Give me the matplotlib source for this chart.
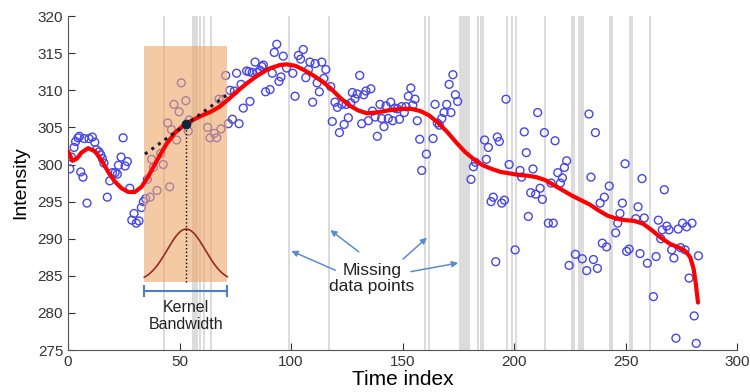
import numpy as np
import matplotlib.pyplot as plt
from matplotlib.patches import Rectangle

plt.rcParams['font.family'] = ['Liberation Sans', 'DejaVu Sans']

# observed samples (time index, intensity)
t_obs = [0.8, 1.5, 2.7, 3.4, 4.5, 5.1, 5.7, 6.7, 7.2, 8.5, 9.4, 10.9, 12.0, 12.7, 13.9,
         14.7, 15.4, 16.1, 17.6, 18.7, 19.9, 21.1, 22.1, 22.6, 23.8, 24.7, 25.6, 26.6,
         27.7, 28.6, 29.6, 30.6, 31.8, 32.9, 33.8, 34.8, 35.6, 36.8, 37.5, 38.3, 39.9,
         41.6, 42.7, 44.7, 45.6, 46.4, 47.5, 48.7, 49.8, 50.8, 52.8, 53.9, 54.3,
         62.6, 63.7, 65.6, 66.7, 67.7, 68.6, 69.6, 70.7, 71.9, 72.6, 73.7, 74.6, 75.6,
         76.7, 77.6, 78.6, 80.1, 81.2, 81.6, 82.6, 83.9, 84.9, 86.1, 86.9, 87.6, 88.6,
         90.6, 91.6, 92.5, 93.6, 94.6, 95.5, 96.5, 98.0,
         100.8, 101.8, 103.3, 104.3, 105.5, 106.6, 107.8, 108.5, 109.7, 110.8, 111.7,
         112.7, 113.8, 114.7, 115.6, 117.8, 118.5, 119.7, 120.8, 121.7, 122.7, 123.8,
         124.7, 125.7, 126.8, 127.5, 128.7, 129.7, 130.8, 131.7, 132.6, 133.6, 134.7,
         135.8, 136.5, 137.7, 138.7, 139.9, 140.6, 141.7, 142.6, 143.6, 144.7, 145.6,
         146.6, 147.7, 148.6, 149.6, 150.8, 151.6, 152.6, 153.7, 154.6, 155.6, 156.6,
         157.7, 158.6, 160.7, 163.7, 164.6, 165.6, 166.5, 167.6, 168.6, 169.8, 170.9,
         171.7, 172.6, 173.7, 174.7, 180.7, 181.8, 182.7, 186.8, 187.6, 188.5, 189.7,
         190.7, 191.8, 192.5, 193.4, 194.5, 195.7, 196.4, 197.8, 200.5, 202.7, 203.4,
         204.6, 205.5, 206.4, 207.5, 208.5, 209.7, 210.6, 211.7, 212.7, 213.6, 215.4,
         216.6, 217.6, 218.4, 219.6, 220.8, 221.7, 222.6, 223.6, 224.7, 227.5, 230.6,
         232.6, 233.6, 234.5, 235.6, 236.5, 237.4, 238.6, 239.6, 240.5, 241.5, 242.7,
         245.6, 246.5, 247.5, 248.6, 249.8, 250.5, 251.6, 254.6, 255.6, 256.5, 257.4,
         258.4, 259.8, 262.5, 263.7, 264.7, 265.8, 266.5, 267.4, 268.5, 269.5, 270.7,
         271.7, 272.6, 273.6, 274.7, 275.6, 276.7, 277.4, 278.5, 279.8, 280.8, 281.7,
         282.7]
y_obs = [299.4, 301.0, 302.3, 303.1, 303.6, 303.8, 299.0, 298.3, 303.5, 294.8, 303.5, 303.7,
         303.0, 302.0, 301.7, 301.3, 300.8, 300.2, 295.6, 297.8, 298.9, 298.9, 298.7,
         299.9, 301.0, 303.6, 299.8, 300.4, 296.8, 292.5, 293.4, 292.1, 292.4, 294.2,
         295.0, 295.4, 298.0, 295.6, 300.7, 299.6, 296.5, 301.5, 300.0, 305.6, 297.0,
         304.7, 308.1, 303.3, 307.1, 311.0, 308.6, 304.5, 306.0,
         305.0, 303.6, 304.2, 303.6, 308.8, 304.8, 308.8, 312.0, 305.5, 310.0, 306.1,
         309.9, 312.3, 305.5, 310.8, 307.6, 312.6, 312.5, 308.5, 312.4, 313.8, 312.4,
         312.7, 313.2, 313.4, 309.8, 310.1, 312.3, 315.1, 316.2, 311.2, 311.8, 314.6,
         313.0,
         312.3, 309.2, 314.7, 314.2, 315.5, 311.7, 312.8, 313.8, 308.4, 313.6, 311.0,
         309.8, 313.8, 311.6, 312.8, 310.5, 305.8, 308.4, 307.7, 304.3, 308.1, 305.4,
         308.1, 306.3, 308.3, 309.7, 308.9, 309.5, 312.0, 305.5, 309.4, 309.9, 305.9,
         310.2, 307.2, 306.4, 303.8, 308.1, 306.2, 305.1, 307.9, 306.2, 308.4, 305.9,
         307.6, 307.5, 306.1, 307.8, 307.0, 307.8, 309.2, 310.3, 308.0, 308.8, 305.9,
         303.4, 299.2, 301.4, 303.5, 308.1, 305.6, 305.3, 306.2, 307.0, 308.1, 310.8,
         307.0, 312.1, 309.4, 308.5, 298.0, 299.7, 300.3, 303.3, 300.7, 302.3, 295.0,
         295.6, 286.9, 303.7, 303.1, 294.8, 295.2, 308.8, 300.0, 288.5, 299.2, 298.3,
         304.4, 301.6, 293.0, 296.2, 299.4, 296.0, 307.0, 296.8, 295.3, 304.3, 292.1,
         297.5, 292.1, 303.2, 298.9, 297.5, 298.2, 299.6, 300.5, 286.4, 287.9, 287.3,
         285.7, 306.8, 298.3, 287.2, 304.3, 286.0, 294.8, 289.4, 295.6, 288.9, 297.1,
         290.8, 292.1, 293.4, 294.8, 300.1, 288.3, 288.6, 292.7, 294.3, 288.0, 298.1,
         292.8, 286.7, 282.2, 287.6, 292.5, 290.0, 291.2, 296.6, 291.7, 291.2, 288.5,
         287.4, 276.6, 291.3, 288.8, 292.1, 288.5, 291.6, 284.7, 292.1, 279.6, 275.9,
         287.7]

# smoothed estimate (red curve)
t_fit = [0, 2, 4, 6, 9, 12, 15, 18, 21, 24, 27, 30, 33, 36, 40, 44, 48, 52, 56, 60, 64,
         68, 72, 76, 80, 85, 90, 95, 98, 102, 106, 110, 114, 118, 122, 126, 130, 134,
         138, 142, 146, 150, 154, 158, 162, 166, 170, 174, 178, 182, 186, 190, 194, 198,
         202, 206, 210, 214, 218, 222, 226, 230, 234, 238, 242, 246, 250, 254, 258, 262,
         266, 270, 274, 277, 279, 280.5, 281.5, 282.5]
y_fit = [301.8, 300.5, 300.8, 301.6, 302.2, 301.8, 300.6, 299.0, 297.7, 296.8, 296.3,
         296.3, 297.0, 298.4, 300.6, 302.7, 304.3, 305.3, 306.0, 306.6, 307.1, 307.8,
         308.8, 309.9, 310.9, 312.0, 312.9, 313.4, 313.5, 313.3, 312.7, 312.0, 311.2,
         310.2, 309.0, 308.0, 307.3, 306.9, 307.0, 307.2, 307.4, 307.5, 307.5, 307.2,
         306.6, 305.6, 304.4, 303.0, 301.7, 300.7, 299.9, 299.4, 299.0, 298.8, 298.6,
         298.5, 298.3, 297.9, 297.2, 296.5, 295.8, 295.2, 294.6, 293.8, 293.1, 292.7,
         292.5, 292.4, 292.0, 291.1, 290.1, 289.3, 288.8, 288.3, 287.5, 286.0, 284.0,
         281.4]

missing = [43, 56, 57, 58, 59, 61, 64, 99, 117, 160, 162, 176, 177, 178, 179, 180,
           184, 185, 186, 197, 199, 201, 214, 226, 227, 229, 230, 231, 243, 244, 252,
           253, 261]

# kernel illustration
k_center = 53
k_left, k_right = 34.2, 71.4
k_base, k_peak = 284.2, 291.3
k_sigma = 8.5
tangent_x = [34.5, 71.3]
tangent_y = [301.4, 309.4]
est_y = 305.5

fig = plt.figure(figsize=(7.5, 3.92), dpi=100)
ax = fig.add_axes([0.0907, 0.107, 0.892, 0.852])

for m in missing:
    ax.axvspan(m - 0.47, m + 0.47, color='#dcdcdc', lw=0, zorder=1)

ax.scatter(t_obs, y_obs, s=32, facecolors='none', edgecolors='#4646e6',
           linewidths=1.0, zorder=2)

ax.add_patch(Rectangle((k_left, k_base), k_right - k_left, 316.0 - k_base,
                       facecolor='#eea868', alpha=0.6, lw=0, zorder=3))

ax.plot(t_fit, y_fit, color='#ff0000', lw=3.0, zorder=5, solid_capstyle='round')

kx = np.linspace(k_left, k_right, 200)
ky = k_base + (k_peak - k_base) * np.exp(-0.5 * ((kx - k_center) / k_sigma) ** 2)
ax.plot(kx, ky, color='#962a2a', lw=1.2, zorder=4)

ax.plot([k_center, k_center], [k_base, est_y], color='black', ls=':', lw=1.0, zorder=6)
ax.plot(tangent_x, tangent_y, color='#1a1a2a', ls=':', lw=2.2, zorder=6)
ax.plot([k_center], [est_y], 'o', color='#15253a', ms=6, zorder=7)

# bandwidth bracket
ax.plot([k_left, k_right], [283.0, 283.0], color='#4a80c4', lw=1.5, zorder=6)
ax.plot([k_left, k_right], [283.0, 283.0], ls='none', marker='|', ms=8, mew=1.5,
        color='#4a80c4', zorder=6)
ax.text(k_center, 279.6, 'Kernel\nBandwidth', ha='center', va='center',
        fontsize=11.5, color='#222222', linespacing=1.15)

ax.text(136.3, 284.6, 'Missing\ndata points', ha='center', va='center',
        fontsize=12.5, color='#222222', linespacing=1.1)
arrow_kw = dict(arrowstyle='-|>', color='#5b8ec8', lw=1.1, mutation_scale=9)
for tail, head in [((121.0, 285.6), (99.0, 288.5)), ((131.4, 288.0), (116.6, 291.4)),
                   ((149.3, 287.0), (161.9, 290.4)), ((152.5, 285.5), (176.2, 286.8))]:
    ax.annotate('', xy=head, xytext=tail, arrowprops=arrow_kw, zorder=6)

ax.set_xlim(0, 300)
ax.set_ylim(275, 320)
ax.set_xticks(range(0, 301, 50))
ax.set_yticks(range(275, 321, 5))
ax.tick_params(direction='in', length=5, labelsize=11, colors='#333333')
for s in ['top', 'right']:
    ax.spines[s].set_visible(False)
for s in ['left', 'bottom']:
    ax.spines[s].set_color('#555555')
ax.set_xlabel('Time index', fontsize=15, labelpad=1)
ax.set_ylabel('Intensity', fontsize=14, labelpad=6)

fig.savefig('out.png', dpi=100)
